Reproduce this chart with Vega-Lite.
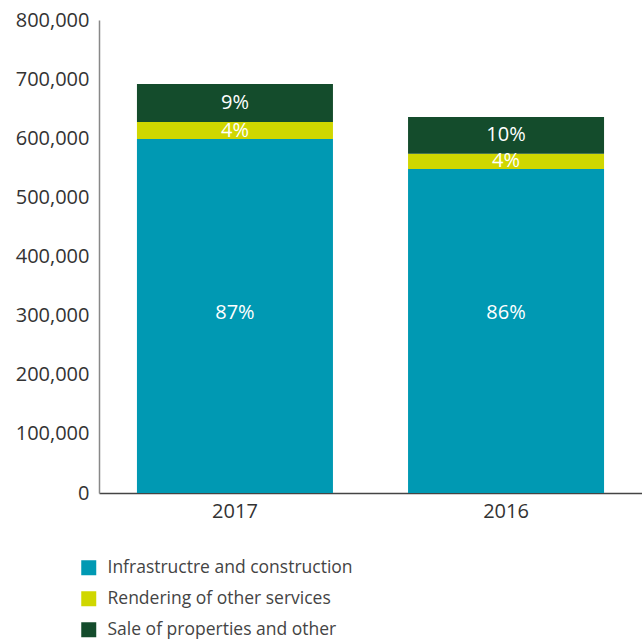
{
  "$schema": "https://vega.github.io/schema/vega-lite/v6.json",
  "width": 543,
  "height": 473,
  "autosize": {"type": "none"},
  "padding": {"left": 99, "top": 20, "right": 0, "bottom": 149},
  "config": {
    "font": "Open Sans",
    "view": {"stroke": null},
    "axisY": {
      "format": ",.0f",
      "grid": false,
      "ticks": false,
      "labelFontSize": 20,
      "labelColor": "#333333",
      "labelPadding": 10,
      "domainColor": "#888888",
      "domainWidth": 1.5,
      "title": null
    },
    "axisX": {
      "title": null,
      "labelAngle": 0,
      "labelFontSize": 20,
      "labelColor": "#333333",
      "labelPadding": 8,
      "ticks": false,
      "domainColor": "#444444",
      "domainWidth": 1.5
    }
  },
  "data": {
    "values": [
      {"year": "2017", "segment": "Infrastructre and construction", "order": 1, "value": 598700, "label": "87%"},
      {"year": "2017", "segment": "Rendering of other services", "order": 2, "value": 28800, "label": "4%"},
      {"year": "2017", "segment": "Sale of properties and other", "order": 3, "value": 64200, "label": "9%"},
      {"year": "2016", "segment": "Infrastructre and construction", "order": 1, "value": 548000, "label": "86%"},
      {"year": "2016", "segment": "Rendering of other services", "order": 2, "value": 25900, "label": "4%"},
      {"year": "2016", "segment": "Sale of properties and other", "order": 3, "value": 62100, "label": "10%"}
    ]
  },
  "transform": [
    {"stack": "value", "groupby": ["year"], "sort": [{"field": "order"}], "as": ["v0", "v1"]},
    {"calculate": "(datum.v0 + datum.v1) / 2", "as": "mid"}
  ],
  "encoding": {
    "x": {
      "field": "year",
      "type": "nominal",
      "sort": ["2017", "2016"],
      "scale": {"paddingInner": 0.277, "paddingOuter": 0.14}
    }
  },
  "layer": [
    {
      "mark": {"type": "bar"},
      "encoding": {
        "y": {
          "field": "v0",
          "type": "quantitative",
          "scale": {"domain": [0, 800000]},
          "axis": {"values": [0, 100000, 200000, 300000, 400000, 500000, 600000, 700000, 800000], "format": ",.0f"}
        },
        "y2": {"field": "v1"},
        "color": {
          "field": "segment",
          "type": "nominal",
          "sort": ["Infrastructre and construction", "Rendering of other services", "Sale of properties and other"],
          "scale": {
            "domain": ["Infrastructre and construction", "Rendering of other services", "Sale of properties and other"],
            "range": ["#0099b3", "#d0d700", "#144c2c"]
          },
          "legend": {
            "title": null,
            "orient": "none",
            "legendX": -19,
            "legendY": 539,
            "symbolType": "square",
            "symbolSize": 225,
            "symbolStrokeWidth": 0,
            "labelFontSize": 17.5,
            "labelColor": "#444444",
            "labelOffset": 10,
            "labelLimit": 0,
            "rowPadding": 12
          }
        }
      }
    },
    {
      "transform": [{"filter": "datum.order > 1"}],
      "mark": {"type": "text", "color": "white", "fontSize": 20, "baseline": "middle"},
      "encoding": {
        "y": {"field": "mid", "type": "quantitative", "axis": {"format": ",.0f"}},
        "text": {"field": "label"}
      }
    },
    {
      "transform": [{"filter": "datum.order == 1"}],
      "mark": {"type": "text", "color": "white", "fontSize": 20, "baseline": "middle"},
      "encoding": {
        "y": {"datum": 305000, "type": "quantitative", "axis": {"format": ",.0f"}},
        "text": {"field": "label"}
      }
    }
  ]
}
